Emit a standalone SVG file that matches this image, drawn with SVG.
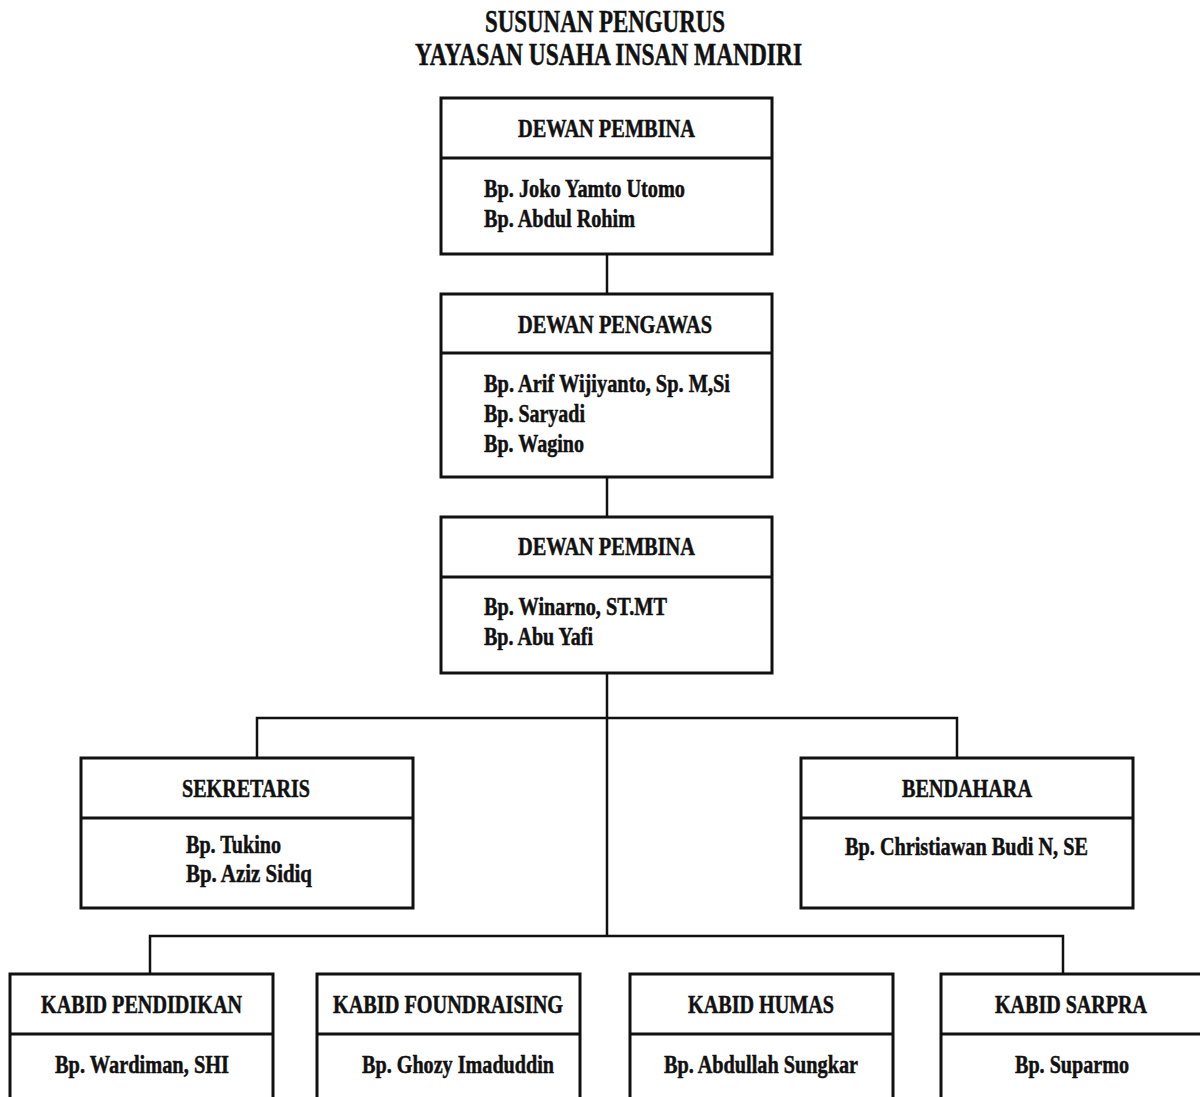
<svg xmlns="http://www.w3.org/2000/svg" width="1200" height="1097" viewBox="0 0 1200 1097">
<style>
.box{fill:#fff;stroke:#111;stroke-width:3}
.div{stroke:#111;stroke-width:3}
.ln{stroke:#111;stroke-width:2.5;fill:none}
text{font-family:"Liberation Serif","Times New Roman",serif;font-weight:bold;fill:#111;stroke:#111;stroke-width:0.5}
.t{font-size:31px}
.h{font-size:25px}
</style>
<rect width="1200" height="1097" fill="#fff"/>
<g id="title">
<text class="t" x="485" y="32" textLength="240" lengthAdjust="spacingAndGlyphs">SUSUNAN PENGURUS</text>
<text class="t" x="415" y="65" textLength="387" lengthAdjust="spacingAndGlyphs">YAYASAN USAHA INSAN MANDIRI</text>
</g>
<g id="connectors">
<line class="ln" x1="607" y1="254" x2="607" y2="294"/>
<line class="ln" x1="607" y1="477" x2="607" y2="517"/>
<line class="ln" x1="607" y1="673" x2="607" y2="936"/>
<polyline class="ln" points="257,758 257,718 957,718 957,758"/>
<polyline class="ln" points="150,974 150,936 1063,936 1063,974"/>
</g>
<g id="dewan-pembina-1">
<rect class="box" x="441" y="98" width="331" height="156"/>
<line class="div" x1="441" y1="158" x2="772" y2="158"/>
<text class="h" x="518" y="137" textLength="177" lengthAdjust="spacingAndGlyphs">DEWAN PEMBINA</text>
<text class="h" x="484" y="197" textLength="201" lengthAdjust="spacingAndGlyphs">Bp. Joko Yamto Utomo</text>
<text class="h" x="484" y="227" textLength="151" lengthAdjust="spacingAndGlyphs">Bp. Abdul Rohim</text>
</g>
<g id="dewan-pengawas">
<rect class="box" x="441" y="294" width="331" height="183"/>
<line class="div" x1="441" y1="353" x2="772" y2="353"/>
<text class="h" x="518" y="333" textLength="194" lengthAdjust="spacingAndGlyphs">DEWAN PENGAWAS</text>
<text class="h" x="484" y="392" textLength="246" lengthAdjust="spacingAndGlyphs">Bp. Arif Wijiyanto, Sp. M,Si</text>
<text class="h" x="484" y="422" textLength="101" lengthAdjust="spacingAndGlyphs">Bp. Saryadi</text>
<text class="h" x="484" y="452" textLength="100" lengthAdjust="spacingAndGlyphs">Bp. Wagino</text>
</g>
<g id="dewan-pembina-2">
<rect class="box" x="441" y="517" width="331" height="156"/>
<line class="div" x1="441" y1="577" x2="772" y2="577"/>
<text class="h" x="518" y="555" textLength="177" lengthAdjust="spacingAndGlyphs">DEWAN PEMBINA</text>
<text class="h" x="484" y="615" textLength="183" lengthAdjust="spacingAndGlyphs">Bp. Winarno, ST.MT</text>
<text class="h" x="484" y="645" textLength="109" lengthAdjust="spacingAndGlyphs">Bp. Abu Yafi</text>
</g>
<g id="sekretaris">
<rect class="box" x="81" y="758" width="332" height="150"/>
<line class="div" x1="81" y1="818" x2="413" y2="818"/>
<text class="h" x="182" y="797" textLength="128" lengthAdjust="spacingAndGlyphs">SEKRETARIS</text>
<text class="h" x="186" y="853" textLength="95" lengthAdjust="spacingAndGlyphs">Bp. Tukino</text>
<text class="h" x="186" y="882" textLength="126" lengthAdjust="spacingAndGlyphs">Bp. Aziz Sidiq</text>
</g>
<g id="bendahara">
<rect class="box" x="801" y="758" width="332" height="150"/>
<line class="div" x1="801" y1="818" x2="1133" y2="818"/>
<text class="h" x="902" y="797" textLength="130" lengthAdjust="spacingAndGlyphs">BENDAHARA</text>
<text class="h" x="845" y="855" textLength="243" lengthAdjust="spacingAndGlyphs">Bp. Christiawan Budi N, SE</text>
</g>
<g id="kabid-pendidikan">
<rect class="box" x="10" y="974" width="263" height="140"/>
<line class="div" x1="10" y1="1034" x2="273" y2="1034"/>
<text class="h" x="41" y="1013" textLength="201" lengthAdjust="spacingAndGlyphs">KABID PENDIDIKAN</text>
<text class="h" x="55" y="1073" textLength="174" lengthAdjust="spacingAndGlyphs">Bp. Wardiman, SHI</text>
</g>
<g id="kabid-foundraising">
<rect class="box" x="317" y="974" width="263" height="140"/>
<line class="div" x1="317" y1="1034" x2="580" y2="1034"/>
<text class="h" x="333" y="1013" textLength="230" lengthAdjust="spacingAndGlyphs">KABID FOUNDRAISING</text>
<text class="h" x="362" y="1073" textLength="192" lengthAdjust="spacingAndGlyphs">Bp. Ghozy Imaduddin</text>
</g>
<g id="kabid-humas">
<rect class="box" x="630" y="974" width="263" height="140"/>
<line class="div" x1="630" y1="1034" x2="893" y2="1034"/>
<text class="h" x="688" y="1013" textLength="146" lengthAdjust="spacingAndGlyphs">KABID HUMAS</text>
<text class="h" x="664" y="1073" textLength="194" lengthAdjust="spacingAndGlyphs">Bp. Abdullah Sungkar</text>
</g>
<g id="kabid-sarpra">
<rect class="box" x="941" y="974" width="270" height="140"/>
<line class="div" x1="941" y1="1034" x2="1211" y2="1034"/>
<text class="h" x="995" y="1013" textLength="152" lengthAdjust="spacingAndGlyphs">KABID SARPRA</text>
<text class="h" x="1015" y="1073" textLength="114" lengthAdjust="spacingAndGlyphs">Bp. Suparmo</text>
</g>
</svg>
